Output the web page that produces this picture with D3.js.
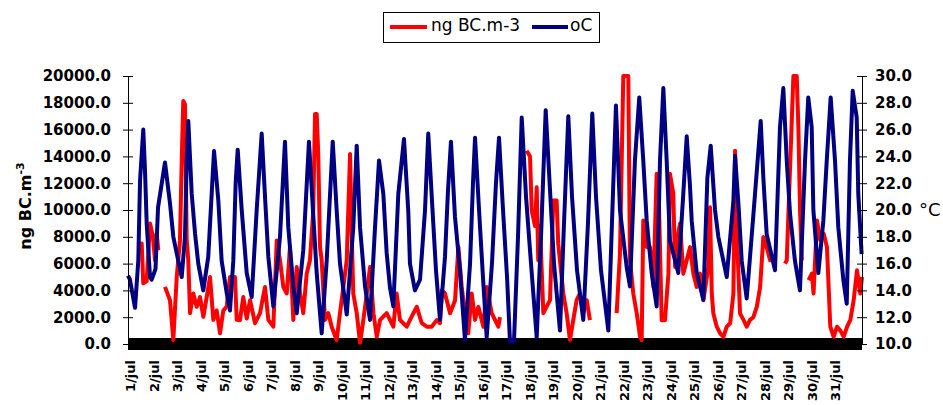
<!DOCTYPE html>
<html><head><meta charset="utf-8">
<script src="https://cdn.jsdelivr.net/npm/d3@7"></script>
<style>body{margin:0;background:#fff}svg{display:block}</style>
</head><body>
<svg id="c" width="943" height="405"></svg>
<script>
// Day category labels (one per day, hour 0 of each day)
const dayLabels = ["1/jul","2/jul","3/jul","4/jul","5/jul","6/jul","7/jul","8/jul","9/jul","10/jul",
  "11/jul","12/jul","13/jul","14/jul","15/jul","16/jul","17/jul","18/jul","19/jul","20/jul",
  "21/jul","22/jul","23/jul","24/jul","25/jul","26/jul","27/jul","28/jul","29/jul","30/jul","31/jul"];
const bcTicks = [0,2000,4000,6000,8000,10000,12000,14000,16000,18000,20000];
const tempTicks = [10,12,14,16,18,20,22,24,26,28,30];

// Temperature (oC): [hour since 1 jul 00:00, value]
const tempSeries = [[-3,15.1],[-1,14.8],[4.2,12.7],[7.5,16.2],[9.3,22.2],[12.6,26.0],[14.4,22.9],[16.1,19.0],[19.5,15.0],[21.2,14.8],[25.1,15.6],[27.7,20.2],[34.8,23.55],[39.9,20.5],[43.3,18.0],[48.4,16.2],[51.9,15.0],[55.2,18.0],[57.0,23.7],[58.6,26.65],[62.1,21.2],[65.5,18.25],[68.8,16.0],[73.9,14.0],[79.0,16.5],[82.5,21.2],[84.9,24.4],[89.3,20.7],[92.7,16.2],[97.9,13.8],[101.2,12.5],[104.6,16.2],[107.0,22.0],[109.1,24.5],[113.2,20.0],[118.3,15.3],[123.4,13.5],[128.5,20.0],[133.6,25.7],[137.0,21.0],[140.4,16.5],[145.5,12.8],[152.3,18.0],[157.4,25.1],[160.8,18.7],[165.9,14.3],[169.4,12.3],[176.1,17.0],[181.9,25.1],[186.3,19.6],[189.8,15.3],[194.9,10.8],[200.0,16.2],[206.2,25.1],[210.2,20.0],[213.6,16.0],[220.5,12.2],[227.2,18.7],[230.7,24.8],[234.1,18.7],[239.2,14.3],[244.3,11.8],[249.4,18.7],[253.5,23.7],[257.9,21.2],[261.3,16.8],[264.7,14.2],[268.1,12.8],[273.2,21.2],[279.0,25.3],[283.4,19.9],[285.1,16.0],[290.2,14.0],[295.4,14.8],[300.5,20.0],[303.8,25.7],[307.6,20.7],[311.7,15.5],[315.8,11.8],[320.9,16.5],[324.0,21.5],[327.0,25.1],[331.1,19.5],[336.2,15.5],[341.3,10.3],[346.5,16.0],[349.5,22.0],[351.6,25.4],[355.7,20.0],[359.7,15.0],[363.5,10.5],[368.9,16.0],[373.0,22.0],[376.1,25.4],[380.2,20.0],[384.3,15.0],[387.3,10.2],[391.4,10.2],[395.5,18.0],[399.3,26.9],[403.7,21.0],[408.8,16.0],[414.6,10.5],[419.0,18.0],[423.8,27.45],[428.2,21.5],[432.3,16.0],[438.4,11.0],[442.5,19.0],[446.9,27.0],[450.7,21.0],[455.8,15.5],[462.2,11.8],[467.0,19.0],[471.4,27.2],[475.2,21.0],[480.3,15.5],[487.8,11.0],[491.5,19.0],[495.6,27.8],[499.7,20.0],[506.6,15.7],[509.9,14.3],[515.0,23.7],[519.4,28.4],[523.5,23.7],[527.0,19.2],[532.1,15.3],[537.2,12.8],[540.6,23.7],[544.0,29.1],[547.4,23.7],[550.8,17.7],[559.3,15.3],[564.4,21.2],[567.9,25.5],[571.3,21.7],[573.0,19.2],[578.1,15.3],[584.9,13.3],[589.0,22.4],[592.4,24.8],[596.8,20.0],[600.2,18.0],[608.8,15.0],[615.6,20.7],[617.3,24.05],[620.7,20.5],[624.1,16.2],[629.2,13.4],[637.7,21.2],[643.5,26.65],[646.2,22.4],[649.6,18.2],[658.1,15.5],[663.2,26.2],[666.6,29.1],[670.1,23.7],[673.5,19.7],[678.5,16.2],[683.6,14.0],[688.8,23.7],[692.1,28.4],[695.6,26.2],[697.3,20.0],[702.4,15.3],[707.5,19.2],[711.0,23.7],[715.0,28.4],[719.4,23.7],[722.8,18.7],[727.9,14.8],[731.4,13.0],[734.7,23.7],[737.5,28.9],[741.6,26.9],[743.2,21.2],[746.6,16.7]];

// Black carbon (ng BC.m-3): [hour, value]; null = missing data
const bcSeries = [[9.3,7500],[11.0,7500],[12.6,4530],[16.1,4700],[19.5,9000],[22.5,8000],[24.6,6245],[26.3,8250],[28.0,7000],[31,null],[34.8,4260],[39.9,3270],[43.3,300],[46.8,5000],[50.1,7730],[51.9,13680],[53.5,18140],[55.2,17900],[57.0,7730],[58.6,6245],[60.4,2300],[63.7,3770],[67.2,2775],[70.6,3500],[74.0,2030],[77.4,3500],[80.8,5000],[84.2,1800],[87.6,2500],[91.0,800],[94.4,2500],[97.9,2800],[101.2,5000],[106.3,5000],[108.1,1800],[111.4,1780],[114.8,3500],[118.3,1900],[121.7,3270],[126.8,1550],[131.9,2300],[137.0,4260],[140.4,1800],[145.5,1300],[149.0,7730],[152.3,6245],[155.7,4260],[159.2,3770],[162.5,7230],[165.9,1800],[169.4,5750],[172.8,3800],[176.1,2300],[179.6,5250],[182.9,6245],[186.3,9960],[188.1,17170],[189.8,17170],[191.4,14200],[193.2,7230],[194.9,6245],[198.3,1800],[201.7,2300],[205.1,1290],[210.2,300],[213.6,2300],[220.5,6245],[223.9,14170],[225.6,8250],[227.2,3770],[230.7,2300],[234.1,100],[237.5,1800],[241.0,3770],[244.3,5750],[247.8,2300],[251.2,540],[254.6,1800],[261.3,2300],[268.1,1290],[271.5,3770],[274.9,1800],[278.3,1550],[281.8,1290],[288.6,2300],[292.1,2775],[297.2,1550],[302.2,1290],[307.3,1290],[312.4,1780],[315.8,1550],[317.6,4015],[320.9,3770],[326.1,2300],[331.2,3270],[334.6,7230],[338.0,4260],[341.3,2280],[344.7,800],[348.2,3770],[351.6,1800],[355.0,2775],[360.1,1290],[363.5,4260],[368.6,2300],[372.0,1800],[375.4,1290],[377.1,2000],[380,null],[404.4,14420],[407.8,14000],[409.5,9960],[412.9,8800],[414.6,11700],[416.2,6245],[418.0,8800],[421.4,2300],[424.8,2800],[428.2,3270],[431.6,10700],[435.0,10700],[436.6,7490],[441.8,3770],[445.2,2300],[448.6,300],[452.0,1800],[455.4,3270],[458.8,3770],[462.2,2300],[465.7,3270],[469.0,1780],[480,null],[496.3,2300],[499.7,6770],[503.1,20000],[508.2,20000],[509.9,6245],[513.3,3770],[516.8,2300],[520.2,540],[521.9,300],[523.5,9220],[527.0,7230],[530.4,7230],[533.8,4260],[537.2,12700],[538.9,12400],[542.3,1780],[545.7,1780],[549.2,5250],[550.8,12700],[554.2,11200],[556.0,5750],[559.3,8250],[561.1,9000],[564.4,5250],[567.9,6245],[571.3,7230],[574.7,5250],[578.1,4260],[581.5,5250],[584.9,3270],[590.0,5750],[591.7,10200],[593.5,3770],[595.1,2280],[598.6,1290],[602.0,800],[605.4,540],[608.8,1290],[612.3,1550],[615.6,3770],[617.3,14420],[619.1,8250],[622.4,2280],[625.9,1800],[629.2,1290],[632.6,1800],[636.0,2000],[639.5,2775],[642.9,4260],[646.2,7980],[649.6,7230],[653.1,6245],[656.5,6700],[660,null],[668.3,6000],[670.1,6245],[673.5,13180],[676.9,20000],[680.3,20000],[682.0,16150],[683.7,9960],[685.5,6245],[688,null],[692.4,4760],[695.8,5250],[697.5,3770],[701.0,9220],[704.4,7730],[707.8,8250],[711.2,7230],[714.6,1290],[718.0,540],[721.5,1290],[724.9,1000],[728.3,540],[731.8,1290],[735.1,1800],[738.5,3270],[741.9,5500],[745.2,3770],[747.0,5000]];

const svg = d3.select("#c");
const FONT = "'DejaVu Sans', sans-serif";
svg.append("rect").attr("width",943).attr("height",405).attr("fill","#fff");

const x = d3.scaleLinear().domain([-3, 747]).range([128, 862]);
const yL = d3.scaleLinear().domain([0, 20000]).range([344, 76]);
const yR = d3.scaleLinear().domain([10, 30]).range([344, 76]);

// dense hourly tick band along the bottom
svg.append("rect")
  .attr("x", x.range()[0]).attr("y", yL(0) - 6)
  .attr("width", x.range()[1] - x.range()[0]).attr("height", 12)
  .attr("fill", "#000");

// lines
const bcLine = d3.line().defined(d => d[1] != null).x(d => x(d[0])).y(d => yL(d[1]));
const tLine = d3.line().x(d => x(d[0])).y(d => yR(d[1]));
svg.append("path").datum(bcSeries).attr("d", bcLine)
  .attr("fill","none").attr("stroke","#ff0000").attr("stroke-width",4).attr("stroke-linejoin","round");
svg.append("path").datum(tempSeries).attr("d", tLine)
  .attr("fill","none").attr("stroke","#000080").attr("stroke-width",4).attr("stroke-linejoin","round");

// left axis
const gL = svg.append("g").attr("transform", `translate(${x.range()[0]},0)`)
  .call(d3.axisLeft(yL).tickValues(bcTicks).tickFormat(d3.format(".1f")).tickSizeInner(5).tickSizeOuter(0).tickPadding(12));
gL.selectAll(".tick line").attr("x1", 5).attr("x2", -5);
gL.selectAll("text").attr("font-family", FONT).attr("font-weight","bold").attr("font-size", 15).attr("fill","#000");
gL.select(".domain").attr("stroke","#000");

// right axis
const gR = svg.append("g").attr("transform", `translate(${x.range()[1]},0)`)
  .call(d3.axisRight(yR).tickValues(tempTicks).tickFormat(d3.format(".1f")).tickSizeInner(5).tickSizeOuter(0).tickPadding(8));
gR.selectAll(".tick line").attr("x1", -5).attr("x2", 5);
gR.selectAll("text").attr("font-family", FONT).attr("font-weight","bold").attr("font-size", 15).attr("fill","#000");
gR.select(".domain").attr("stroke","#000");

// x labels
svg.append("g").selectAll("text").data(dayLabels).join("text")
  .attr("transform", (d,i) => `translate(${x(i*24) + 4.5},360) rotate(-90)`)
  .attr("text-anchor","end")
  .attr("font-family", FONT).attr("font-weight","bold").attr("font-size", 13)
  .text(d => d);

// axis titles
const tl = svg.append("text").attr("transform","translate(31,206) rotate(-90)")
  .attr("text-anchor","middle").attr("font-family",FONT).attr("font-weight","bold").attr("font-size",16);
tl.append("tspan").text("ng BC.m");
tl.append("tspan").attr("dy",-7).attr("font-size",11).text("-3");

svg.append("text").attr("x",919).attr("y",216).attr("font-family",FONT).attr("font-size",18).text("°C");

// legend
const lg = svg.append("g");
lg.append("rect").attr("x",383.5).attr("y",12.5).attr("width",216).attr("height",30)
  .attr("fill","#fff").attr("stroke","#000").attr("stroke-width",1);
const legendItems = [{label:"ng BC.m-3", color:"#ff0000", x0:390, x1:427, tx:431},
                     {label:"oC", color:"#000080", x0:532, x1:568, tx:570}];
legendItems.forEach(it => {
  lg.append("line").attr("x1",it.x0).attr("x2",it.x1).attr("y1",27).attr("y2",27)
    .attr("stroke",it.color).attr("stroke-width",4);
  lg.append("text").attr("x",it.tx).attr("y",31).attr("font-family",FONT).attr("font-size",17).text(it.label);
});
</script>
</body></html>
